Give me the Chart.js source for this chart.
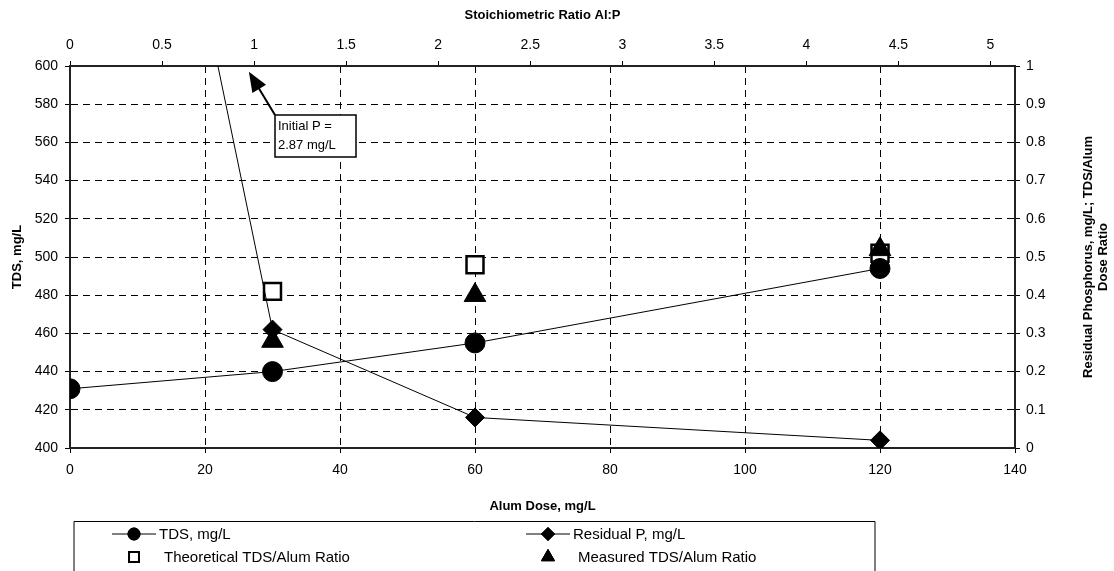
<!DOCTYPE html>
<html>
<head>
<meta charset="utf-8">
<script src="https://cdn.jsdelivr.net/npm/chart.js@4.4.1/dist/chart.umd.min.js"></script>
<style>
    html, body { margin: 0; padding: 0; background: #fff; }
    #wrap { width: 1114px; height: 571px; position: relative; }
</style>
</head>
<body>
<div id="wrap"><canvas id="chart" width="1114" height="571"></canvas></div>
<script>
// Dữ liệu
const alumDose = [0, 30, 60, 120];
const tds = [431, 440, 455, 494];
const residualP = [2.87, 0.31, 0.08, 0.02];
const ratioDose = [30, 60, 120];
const theoreticalRatio = [0.41, 0.48, 0.51];
const measuredRatio = [0.28, 0.40, 0.52];
const stoichTicks = [0, 0.5, 1, 1.5, 2, 2.5, 3, 3.5, 4, 4.5, 5];
const stoichPerDose = 1.1 / 30;   // Al:P tại 30 mg/L = 1.1

const seriesLabels = ['TDS, mg/L', 'Residual P, mg/L', 'Theoretical TDS/Alum Ratio', 'Measured TDS/Alum Ratio'];
const annotationText = ['Initial P =', '2.87 mg/L'];
const rightTitle = ['Residual Phosphorus, mg/L; TDS/Alum', 'Dose Ratio'];

const FONT = 'Liberation Sans, Arial, sans-serif';
const pts = (xs, ys) => xs.map((x, i) => ({ x: x, y: ys[i] }));
const fmt = v => String(Math.round(v * 10) / 10);

// Vẽ chú giải, hộp ghi chú và tiêu đề trục phải
const extrasPlugin = {
    id: 'extras',
    afterDraw(chart) {
        const ctx = chart.ctx;
        const xs = chart.scales.x, y2 = chart.scales.y2;

        // ghi chú "Initial P"
        const tipX = xs.getPixelForValue(26.5), tipY = y2.getPixelForValue(0.985);
        const bx = 275, by = 115, bw = 81, bh = 42;
        ctx.save();
        ctx.strokeStyle = '#000';
        ctx.fillStyle = '#000';
        ctx.lineWidth = 2;
        const ang = Math.atan2(tipY - by, tipX - bx);
        const headLen = 20;
        ctx.beginPath();
        ctx.moveTo(bx, by);
        ctx.lineTo(tipX - Math.cos(ang) * headLen * 0.8, tipY - Math.sin(ang) * headLen * 0.8);
        ctx.stroke();
        ctx.beginPath();
        ctx.moveTo(tipX, tipY);
        ctx.lineTo(tipX - headLen * Math.cos(ang) + 8 * Math.sin(ang), tipY - headLen * Math.sin(ang) - 8 * Math.cos(ang));
        ctx.lineTo(tipX - headLen * Math.cos(ang) - 8 * Math.sin(ang), tipY - headLen * Math.sin(ang) + 8 * Math.cos(ang));
        ctx.closePath();
        ctx.fill();
        ctx.fillStyle = '#fff';
        ctx.fillRect(bx, by, bw, bh);
        ctx.lineWidth = 1.5;
        ctx.strokeRect(bx, by, bw, bh);
        ctx.fillStyle = '#000';
        ctx.font = '13px ' + FONT;
        ctx.textBaseline = 'middle';
        ctx.fillText(annotationText[0], bx + 3, by + 11);
        ctx.fillText(annotationText[1], bx + 3, by + 30);
        ctx.restore();

        // tiêu đề trục phải (đọc từ dưới lên)
        ctx.save();
        ctx.font = 'bold 13px ' + FONT;
        ctx.fillStyle = '#000';
        ctx.textAlign = 'center';
        ctx.textBaseline = 'middle';
        const midY = (chart.chartArea.top + chart.chartArea.bottom) / 2;
        rightTitle.forEach((t, i) => {
            ctx.save();
            ctx.translate(1088 + i * 15, midY);
            ctx.rotate(-Math.PI / 2);
            ctx.fillText(t, 0, 0);
            ctx.restore();
        });
        ctx.restore();

        // chú giải
        ctx.save();
        ctx.strokeStyle = '#000';
        ctx.lineWidth = 1;
        ctx.beginPath();
        ctx.moveTo(74, 580); ctx.lineTo(74, 521.5); ctx.lineTo(875, 521.5); ctx.lineTo(875, 580);
        ctx.stroke();
        ctx.font = '15px ' + FONT;
        ctx.textBaseline = 'middle';
        ctx.fillStyle = '#000';
        const items = [
            { col: 0, row: 0, line: true, style: 'circle', r: 6 },
            { col: 1, row: 0, line: true, style: 'rectRot', r: 6.5 },
            { col: 0, row: 1, line: false, style: 'rect', r: 7, open: true },
            { col: 1, row: 1, line: false, style: 'triangle', r: 7.5 }
        ];
        const colX = [134, 548];
        const rowY = [534, 557];
        items.forEach((it, i) => {
            const cx = colX[it.col], cy = rowY[it.row];
            if (it.line) {
                ctx.lineWidth = 1;
                ctx.beginPath();
                ctx.moveTo(cx - 22, cy); ctx.lineTo(cx + 22, cy);
                ctx.stroke();
            }
            ctx.fillStyle = it.open ? '#fff' : '#000';
            ctx.lineWidth = it.open ? 2 : 1;
            Chart.helpers.drawPoint(ctx, { pointStyle: it.style, radius: it.r, rotation: 0, borderWidth: ctx.lineWidth }, cx, cy);
            ctx.fill();
            ctx.stroke();
            ctx.fillStyle = '#000';
            ctx.fillText(seriesLabels[i], cx + (it.line ? 25 : 30), cy + 1);
        });
        ctx.restore();
    }
};

const tickFont = { family: FONT, size: 14 };
const titleFont = { family: FONT, size: 13, weight: 'bold' };

new Chart(document.getElementById('chart').getContext('2d'), {
    type: 'scatter',
    data: {
        datasets: [
            {
                label: seriesLabels[0],
                data: pts(alumDose, tds),
                showLine: true,
                order: 1,
                borderColor: '#000',
                borderWidth: 1,
                pointStyle: 'circle',
                pointRadius: 10,
                pointBackgroundColor: '#000',
                pointBorderColor: '#000',
                xAxisID: 'x', yAxisID: 'y'
            },
            {
                label: seriesLabels[1],
                data: pts(alumDose, residualP),
                showLine: true,
                order: 0,
                borderColor: '#000',
                borderWidth: 1,
                pointStyle: 'rectRot',
                pointRadius: [0, 9.5, 9.5, 9.5],
                pointBackgroundColor: '#000',
                pointBorderColor: '#000',
                xAxisID: 'x', yAxisID: 'y2'
            },
            {
                label: seriesLabels[2],
                data: pts(ratioDose, theoreticalRatio),
                showLine: false,
                order: 3,
                pointStyle: 'rect',
                pointRadius: 12,
                pointBorderWidth: 2.5,
                pointBackgroundColor: '#fff',
                pointBorderColor: '#000',
                xAxisID: 'x', yAxisID: 'y2'
            },
            {
                label: seriesLabels[3],
                data: pts(ratioDose, measuredRatio),
                showLine: false,
                order: 2,
                pointStyle: 'triangle',
                pointRadius: 12.5,
                pointBackgroundColor: '#000',
                pointBorderColor: '#000',
                xAxisID: 'x', yAxisID: 'y2'
            }
        ]
    },
    options: {
        responsive: false,
        animation: false,
        layout: { padding: 0 },
        plugins: {
            legend: { display: false },
            tooltip: { enabled: false }
        },
        scales: {
            x: {
                type: 'linear', position: 'bottom', min: 0, max: 140,
                ticks: { stepSize: 20, font: tickFont, color: '#000', padding: 9 },
                grid: { color: '#000', lineWidth: 1, tickLength: 5, tickColor: '#000' },
                border: { color: '#222', width: 2, dash: [7, 5] },
                title: { display: true, text: 'Alum Dose, mg/L', font: titleFont, color: '#000', padding: { top: 0, bottom: 57 } },
                afterFit: s => { s.height = 123; }
            },
            x2: {
                type: 'linear', position: 'top', min: 0, max: 140 * stoichPerDose,
                ticks: { font: tickFont, color: '#000', padding: 7, callback: fmt },
                afterBuildTicks: s => { s.ticks = stoichTicks.map(v => ({ value: v })); },
                grid: { drawOnChartArea: false, tickLength: 5, tickColor: '#000' },
                border: { color: '#222', width: 2 },
                title: { display: true, text: 'Stoichiometric Ratio Al:P', font: titleFont, color: '#000', padding: { top: 8, bottom: 0 } },
                afterFit: s => { s.height = 66; }
            },
            y: {
                type: 'linear', position: 'left', min: 400, max: 600,
                ticks: { stepSize: 20, font: tickFont, color: '#000', padding: 7 },
                grid: { color: '#000', lineWidth: 1, tickLength: 5, tickColor: '#000' },
                border: { color: '#222', width: 2, dash: [7, 5] },
                title: { display: true, text: 'TDS, mg/L', font: titleFont, color: '#000', padding: { top: 10, bottom: 0 } },
                afterFit: s => { s.width = 70; }
            },
            y2: {
                type: 'linear', position: 'right', min: 0, max: 1,
                ticks: { stepSize: 0.1, font: tickFont, color: '#000', padding: 6, callback: fmt },
                grid: { drawOnChartArea: false, tickLength: 5, tickColor: '#000' },
                border: { color: '#222', width: 2 },
                afterFit: s => { s.width = 99; }
            }
        }
    },
    plugins: [extrasPlugin]
});
</script>
</body>
</html>
